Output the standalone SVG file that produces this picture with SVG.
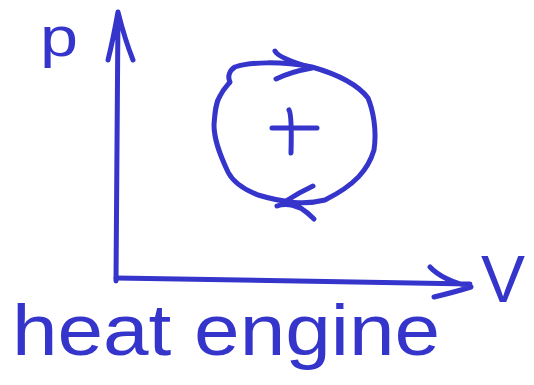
<svg xmlns="http://www.w3.org/2000/svg" width="534" height="385" viewBox="0 0 534 385">
<style>
.s{fill:none;stroke:#3535cc;stroke-width:5;stroke-linecap:round;stroke-linejoin:round}
.t{fill:#3535cc;font-family:"Liberation Sans","DejaVu Sans",sans-serif}
</style>
<rect width="534" height="385" fill="#fff"/>
<g id="connectors">
<path id="p-axis" class="s" d="M116,281 L118,12 M108,60 Q113,40 118,12 Q125,40 133,60"/>
<path id="v-axis" class="s" d="M116,278 L470,284 M430,267 Q442,280 471,287 Q455,292 434,297"/>
</g>
<g id="cycle">
<path class="s" d="M235,67 C250,62 280,61 312,67 C340,75 358,85 368,98 C373,110 377,130 374,150 C368,170 355,185 325,200 C305,205 285,203 258,195 C240,188 232,180 228,172 C220,155 214,140 214,125 C215,110 216,102 220,96 C224,88 228,85 230,82 C227,76 230,70 235,67 Z"/>
<path class="s" d="M275,51 Q278,58 312,68 Q290,72 276,79"/>
<path class="s" d="M313,186 Q300,192 286,201 Q300,205 314,219 M277,206 Q287,202 300,208"/>
<path class="s" d="M272,128 L317,128 M289,110 Q292,115 291,153"/>
</g>
<g id="label-p"><text class="t" x="40" y="56" font-size="56" textLength="38" lengthAdjust="spacingAndGlyphs">p</text></g>
<g id="label-V"><text class="t" x="481" y="302" font-size="66">V</text></g>
<g id="title"><text class="t" x="12" y="355" font-size="72" textLength="428" lengthAdjust="spacingAndGlyphs">heat engine</text></g>
</svg>
